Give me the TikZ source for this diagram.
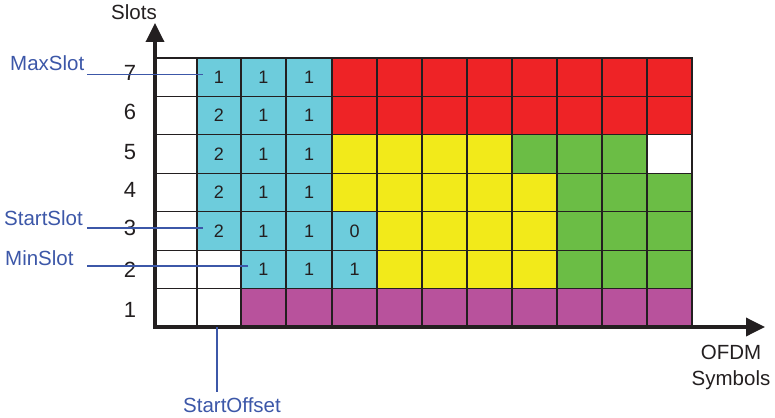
\documentclass[tikz,border=0pt]{standalone}
\usepackage{fontspec}
\setmainfont{Liberation Sans}
\usetikzlibrary{arrows.meta}
\definecolor{cy}{HTML}{6DCCDC}
\definecolor{rd}{HTML}{EE2326}
\definecolor{yl}{HTML}{F2EA1A}
\definecolor{gn}{HTML}{6BBD45}
\definecolor{mg}{HTML}{B8529C}
\definecolor{bl}{HTML}{3C57A8}
\definecolor{ink}{HTML}{231F20}
\tikzset{
  cellline/.style={draw=ink, line width=1.1pt},
  celltext/.style={font=\fontsize{18}{18}\selectfont, text=ink, inner sep=0pt},
  axisnum/.style={font=\fontsize{22}{22}\selectfont, text=ink, anchor=base, inner sep=0pt},
  axistext/.style={font=\fontsize{20.5}{20.5}\selectfont, text=ink, anchor=base, inner sep=0pt},
  bluetext/.style={font=\fontsize{20.5}{20.5}\selectfont, text=bl, inner sep=0pt},
  leader/.style={draw=bl, line width=1.1pt},
  axisline/.style={draw=ink, line width=3.5pt, {Triangle[length=19pt,width=18pt]}-{Triangle[length=19pt,width=18pt]}}
}
\def\gxs{{155,197,241,286,332,377,422,467,512,557,602,647,692}}
\newcommand\gcell[4]{%
  \pgfmathsetmacro\gxa{\gxs[#1-1]}%
  \pgfmathsetmacro\gxb{\gxs[#1]}%
  \pgfmathsetmacro\gya{58+38.43*(7-#2)}%
  \pgfmathsetmacro\gyb{\gya+38.43}%
  \path[cellline, fill=#3] (\gxa,\gya) rectangle (\gxb,\gyb);
  \node[celltext] (c-#1-#2) at ({(\gxa+\gxb)/2},{(\gya+\gyb)/2}) {#4};
}
\begin{document}
\begin{tikzpicture}[x=1pt,y=-1pt]
\useasboundingbox (0,0) rectangle (775,417);
% row 7
\gcell{1}{7}{white}{}
\gcell{2}{7}{cy}{1}\gcell{3}{7}{cy}{1}\gcell{4}{7}{cy}{1}
\foreach \c in {5,...,12}{\gcell{\c}{7}{rd}{}}
% row 6
\gcell{1}{6}{white}{}
\gcell{2}{6}{cy}{2}\gcell{3}{6}{cy}{1}\gcell{4}{6}{cy}{1}
\foreach \c in {5,...,12}{\gcell{\c}{6}{rd}{}}
% row 5
\gcell{1}{5}{white}{}
\gcell{2}{5}{cy}{2}\gcell{3}{5}{cy}{1}\gcell{4}{5}{cy}{1}
\foreach \c in {5,...,8}{\gcell{\c}{5}{yl}{}}
\foreach \c in {9,...,11}{\gcell{\c}{5}{gn}{}}
\gcell{12}{5}{white}{}
% row 4
\gcell{1}{4}{white}{}
\gcell{2}{4}{cy}{2}\gcell{3}{4}{cy}{1}\gcell{4}{4}{cy}{1}
\foreach \c in {5,...,9}{\gcell{\c}{4}{yl}{}}
\foreach \c in {10,...,12}{\gcell{\c}{4}{gn}{}}
% row 3
\gcell{1}{3}{white}{}
\gcell{2}{3}{cy}{2}\gcell{3}{3}{cy}{1}\gcell{4}{3}{cy}{1}\gcell{5}{3}{cy}{0}
\foreach \c in {6,...,9}{\gcell{\c}{3}{yl}{}}
\foreach \c in {10,...,12}{\gcell{\c}{3}{gn}{}}
% row 2
\gcell{1}{2}{white}{}\gcell{2}{2}{white}{}
\gcell{3}{2}{cy}{1}\gcell{4}{2}{cy}{1}\gcell{5}{2}{cy}{1}
\foreach \c in {6,...,9}{\gcell{\c}{2}{yl}{}}
\foreach \c in {10,...,12}{\gcell{\c}{2}{gn}{}}
% row 1
\gcell{1}{1}{white}{}\gcell{2}{1}{white}{}
\foreach \c in {3,...,12}{\gcell{\c}{1}{mg}{}}
% axes
\coordinate (origin) at (155,327);
\coordinate (ytip) at (155,23);
\coordinate (xtip) at (765,327);
\draw[axisline] (xtip) -- (origin) -- (ytip);
\node[axistext] (slots) at (134,20) {Slots};
\node[axistext] (ofdm) at (731,359) {OFDM};
\node[axistext] (symb) at (731,385) {Symbols};
% slot numbers
\node[axisnum] (n7) at (130,81) {7};
\node[axisnum] (n6) at (130,119) {6};
\node[axisnum] (n5) at (130,159) {5};
\node[axisnum] (n4) at (130,197) {4};
\node[axisnum] (n3) at (130,235) {3};
\node[axisnum] (n2) at (130,277) {2};
\node[axisnum] (n1) at (130,317) {1};
% blue labels
\node[bluetext, anchor=base west] (maxslot) at (10,71) {MaxSlot};
\node[bluetext, anchor=base west] (startslot) at (4,225) {StartSlot};
\node[bluetext, anchor=base west] (minslot) at (5,265) {MinSlot};
\node[bluetext, anchor=base] (startoff) at (232,412) {StartOffset};
\coordinate (maxA) at (87,74.3);   \coordinate (maxB) at (203,74.3);
\coordinate (stA) at (87,228);     \coordinate (stB) at (203,228);
\coordinate (minA) at (87,266);    \coordinate (minB) at (248,266);
\coordinate (offA) at (217,327);   \coordinate (offB) at (217,392);
\draw[leader] (maxA) -- (maxB);
\draw[leader] (stA) -- (stB);
\draw[leader] (minA) -- (minB);
\draw[leader] (offA) -- (offB);
\end{tikzpicture}
\end{document}
